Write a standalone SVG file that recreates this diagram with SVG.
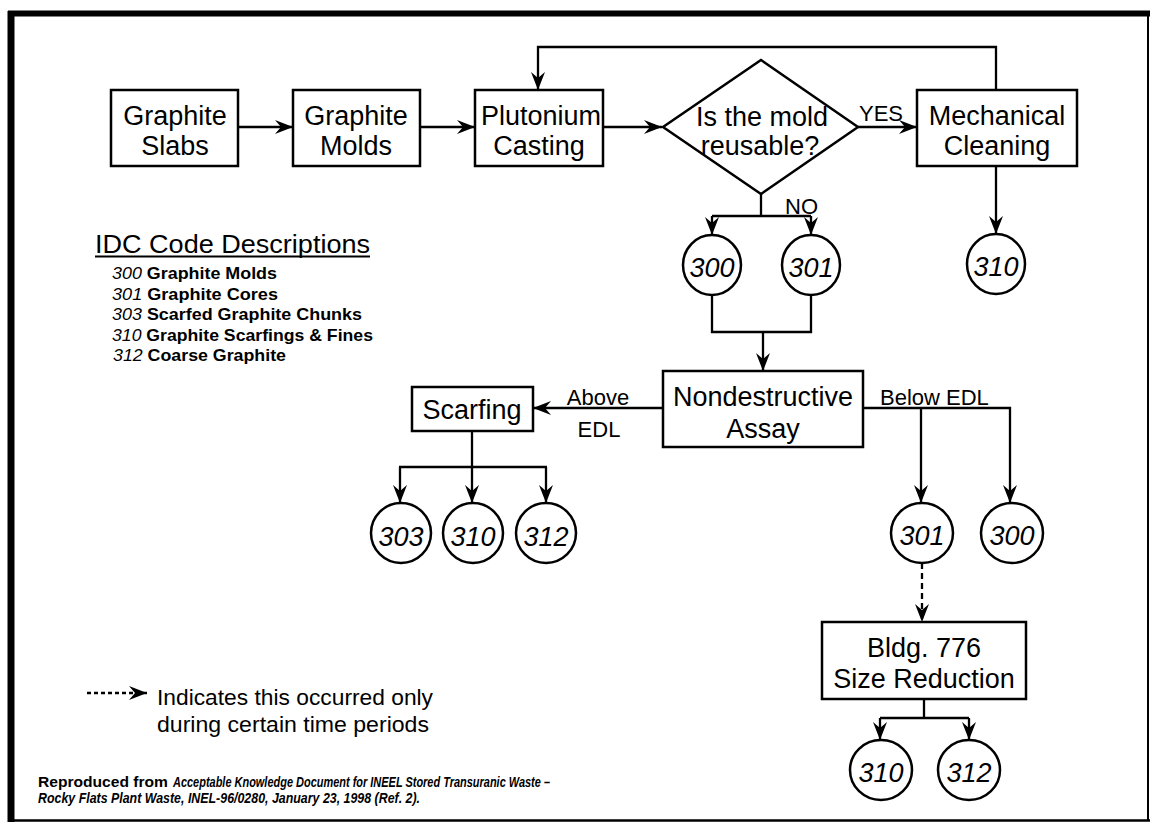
<svg xmlns="http://www.w3.org/2000/svg" width="1150" height="823" viewBox="0 0 1150 823">
<style>
.box{fill:#fff;stroke:#000;stroke-width:2.5}
.c{fill:none;stroke:#000;stroke-width:2.3}
.dash{stroke-dasharray:6 4}
.t{font-family:"Liberation Sans",Arial,sans-serif;font-size:27px;fill:#000;text-anchor:middle}
.n{font-family:"Liberation Sans",Arial,sans-serif;font-size:27px;font-style:italic;fill:#000;text-anchor:middle}
.lbl{font-family:"Liberation Sans",Arial,sans-serif;font-size:22px;fill:#000}
.leg{font-family:"Liberation Sans",Arial,sans-serif;font-size:17px;fill:#000}
.ref{font-family:"Liberation Sans",Arial,sans-serif;font-size:14px;font-weight:bold;fill:#000}
</style>
<defs>
<marker id="ah" markerUnits="userSpaceOnUse" markerWidth="20" markerHeight="14" refX="18" refY="7" orient="auto">
<path d="M0,0 L18,7 L0,14 L6,7 Z" fill="#000"/>
</marker>
</defs>
<rect width="1150" height="823" fill="#fff"/>
<g id="frame" stroke="#000" fill="none">
<line x1="8" y1="13.5" x2="1150" y2="13.5" stroke-width="6"/>
<line x1="11" y1="11" x2="11" y2="822" stroke-width="7"/>
<line x1="1148" y1="14" x2="1148" y2="821" stroke-width="2"/>
<line x1="8" y1="820.5" x2="1150" y2="820.5" stroke-width="2.5"/>
</g>

<g id="connectors">
<line class="c" x1="238" y1="127" x2="293" y2="127" marker-end="url(#ah)"/>
<line class="c" x1="420" y1="127" x2="475" y2="127" marker-end="url(#ah)"/>
<line class="c" x1="603" y1="127" x2="662" y2="127" marker-end="url(#ah)"/>
<line class="c" x1="858" y1="127" x2="917" y2="127" marker-end="url(#ah)"/>
<polyline class="c" points="996,90 996,47 538,47 538,90" marker-end="url(#ah)"/>
<line class="c" x1="761" y1="194" x2="761" y2="216"/>
<line class="c" x1="712" y1="216" x2="811" y2="216"/>
<line class="c" x1="712" y1="216" x2="712" y2="235" marker-end="url(#ah)"/>
<line class="c" x1="811" y1="216" x2="811" y2="235" marker-end="url(#ah)"/>
<line class="c" x1="996" y1="166" x2="996" y2="234" marker-end="url(#ah)"/>
<polyline class="c" points="712,295 712,332 811,332 811,295"/>
<line class="c" x1="763" y1="332" x2="763" y2="371" marker-end="url(#ah)"/>
<line class="c" x1="663" y1="408" x2="533" y2="408" marker-end="url(#ah)"/>
<line class="c" x1="472" y1="431" x2="472" y2="467"/>
<line class="c" x1="399" y1="467" x2="547" y2="467"/>
<line class="c" x1="400" y1="467" x2="400" y2="503" marker-end="url(#ah)"/>
<line class="c" x1="472" y1="467" x2="472" y2="503" marker-end="url(#ah)"/>
<line class="c" x1="546" y1="467" x2="546" y2="503" marker-end="url(#ah)"/>
<polyline class="c" points="863,408 1010,408 1010,503" marker-end="url(#ah)"/>
<line class="c" x1="921" y1="408" x2="921" y2="503" marker-end="url(#ah)"/>
<line class="c dash" x1="922" y1="563" x2="922" y2="622" marker-end="url(#ah)"/>
<line class="c" x1="924" y1="699" x2="924" y2="718"/>
<line class="c" x1="880" y1="718" x2="969" y2="718"/>
<line class="c" x1="880" y1="718" x2="880" y2="740" marker-end="url(#ah)"/>
<line class="c" x1="969" y1="718" x2="969" y2="740" marker-end="url(#ah)"/>
<text class="lbl" x="859" y="121">YES</text>
<text class="lbl" x="785" y="214">NO</text>
<text class="lbl" x="598" y="405" text-anchor="middle">Above</text>
<text class="lbl" x="599" y="437" text-anchor="middle">EDL</text>
<text class="lbl" x="880" y="405">Below EDL</text>
</g>

<g id="graphite-slabs">
<rect class="box" x="111" y="90" width="127" height="76"/>
<text class="t" x="175" y="125">Graphite</text>
<text class="t" x="175" y="155">Slabs</text>
</g>
<g id="graphite-molds">
<rect class="box" x="293" y="90" width="127" height="76"/>
<text class="t" x="356" y="125">Graphite</text>
<text class="t" x="356" y="155">Molds</text>
</g>
<g id="plutonium-casting">
<rect class="box" x="475" y="90" width="128" height="76"/>
<text class="t" x="541" y="125">Plutonium</text>
<text class="t" x="539" y="155">Casting</text>
</g>
<g id="decision">
<polygon class="box" points="761,60 858,127 761,194 663,127"/>
<text class="t" x="762" y="126">Is the mold</text>
<text class="t" x="760" y="155">reusable?</text>
</g>
<g id="mechanical-cleaning">
<rect class="box" x="917" y="90" width="160" height="76"/>
<text class="t" x="997" y="125">Mechanical</text>
<text class="t" x="997" y="155">Cleaning</text>
</g>
<g id="c300a"><ellipse class="box" cx="712" cy="265" rx="29" ry="30"/><text class="n" x="712" y="277">300</text></g>
<g id="c301a"><ellipse class="box" cx="811" cy="265" rx="29" ry="30"/><text class="n" x="811" y="277">301</text></g>
<g id="c310a"><ellipse class="box" cx="996" cy="264" rx="29" ry="30"/><text class="n" x="996" y="276">310</text></g>
<g id="nda">
<rect class="box" x="663" y="371" width="200" height="76"/>
<text class="t" x="763" y="406">Nondestructive</text>
<text class="t" x="763" y="438">Assay</text>
</g>
<g id="scarfing">
<rect class="box" x="412" y="387" width="121" height="44"/>
<text class="t" x="472" y="419">Scarfing</text>
</g>
<g id="c303"><ellipse class="box" cx="401" cy="533" rx="30" ry="30"/><text class="n" x="401" y="546">303</text></g>
<g id="c310b"><ellipse class="box" cx="473" cy="533" rx="30" ry="30"/><text class="n" x="473" y="546">310</text></g>
<g id="c312b"><ellipse class="box" cx="546" cy="533" rx="30" ry="30"/><text class="n" x="546" y="546">312</text></g>
<g id="c301b"><ellipse class="box" cx="922" cy="533" rx="31" ry="30"/><text class="n" x="922" y="545">301</text></g>
<g id="c300b"><ellipse class="box" cx="1012" cy="533" rx="31" ry="30"/><text class="n" x="1012" y="545">300</text></g>
<g id="bldg776">
<rect class="box" x="822" y="622" width="204" height="77"/>
<text class="t" x="924" y="657">Bldg. 776</text>
<text class="t" x="924" y="688">Size Reduction</text>
</g>
<g id="c310c"><ellipse class="box" cx="881" cy="770" rx="31" ry="30"/><text class="n" x="881" y="782">310</text></g>
<g id="c312c"><ellipse class="box" cx="969" cy="770" rx="31" ry="30"/><text class="n" x="969" y="782">312</text></g>

<g id="idc-legend">
<text x="95" y="253" font-family="Liberation Sans, Arial, sans-serif" font-size="25" textLength="275" lengthAdjust="spacingAndGlyphs">IDC Code Descriptions</text>
<line x1="95" y1="256.5" x2="370" y2="256.5" stroke="#000" stroke-width="2"/>
<text class="leg" x="112" y="279" textLength="165" lengthAdjust="spacingAndGlyphs"><tspan font-style="italic">300</tspan> <tspan font-weight="bold">Graphite Molds</tspan></text>
<text class="leg" x="112" y="299.5" textLength="166" lengthAdjust="spacingAndGlyphs"><tspan font-style="italic">301</tspan> <tspan font-weight="bold">Graphite Cores</tspan></text>
<text class="leg" x="112" y="320" textLength="250" lengthAdjust="spacingAndGlyphs"><tspan font-style="italic">303</tspan> <tspan font-weight="bold">Scarfed Graphite Chunks</tspan></text>
<text class="leg" x="112" y="340.5" textLength="261" lengthAdjust="spacingAndGlyphs"><tspan font-style="italic">310</tspan> <tspan font-weight="bold">Graphite Scarfings &amp; Fines</tspan></text>
<text class="leg" x="113" y="361" textLength="173" lengthAdjust="spacingAndGlyphs"><tspan font-style="italic">312</tspan> <tspan font-weight="bold">Coarse Graphite</tspan></text>
</g>

<g id="dash-legend">
<line class="c" x1="87" y1="693" x2="147" y2="693" stroke-dasharray="4 3" marker-end="url(#ah)"/>
<text class="lbl" x="157" y="705" textLength="276" lengthAdjust="spacingAndGlyphs">Indicates this occurred only</text>
<text class="lbl" x="157" y="732" textLength="272" lengthAdjust="spacingAndGlyphs">during certain time periods</text>
</g>

<g id="reference">
<text class="ref" x="38" y="787" textLength="130" lengthAdjust="spacingAndGlyphs">Reproduced from</text>
<text class="ref" x="173" y="787" font-style="italic" textLength="377" lengthAdjust="spacingAndGlyphs">Acceptable Knowledge Document for INEEL Stored Transuranic Waste –</text>
<text class="ref" x="38" y="803" font-style="italic" textLength="382" lengthAdjust="spacingAndGlyphs">Rocky Flats Plant Waste, INEL-96/0280, January 23, 1998 (Ref. 2).</text>
</g>
</svg>
